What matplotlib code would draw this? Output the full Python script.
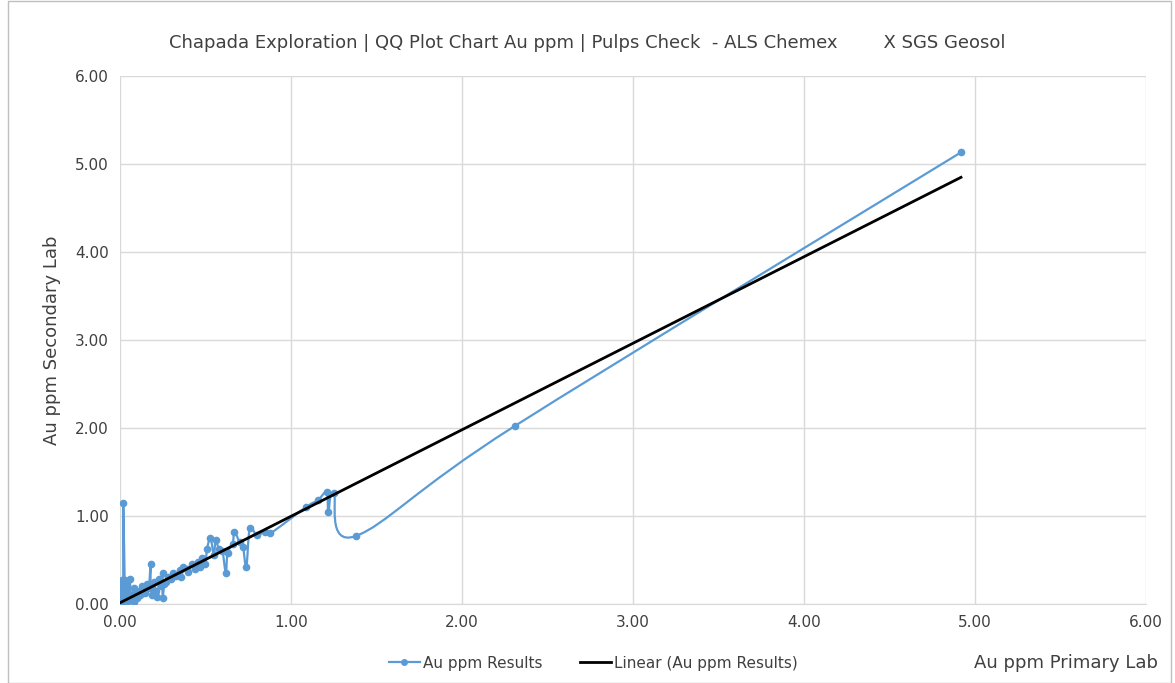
import numpy as np
import matplotlib
matplotlib.use("Agg")
import matplotlib.pyplot as plt
from matplotlib.path import Path
from matplotlib.patches import PathPatch, Rectangle
from matplotlib.lines import Line2D

plt.rcParams['font.family'] = ['Liberation Sans Narrow', 'DejaVu Sans']

# primary lab (ALS) vs secondary lab (SGS), in plotted order
primary = [0.00, 0.00, 0.01, 0.01, 0.02, 0.02, 0.02, 0.03, 0.03, 0.04, 0.04, 0.05, 0.05,
           0.06, 0.06, 0.07, 0.08, 0.08, 0.09, 0.10, 0.10, 0.11, 0.12, 0.13, 0.14, 0.15,
           0.16, 0.17, 0.18, 0.18, 0.19, 0.20, 0.21, 0.22, 0.23, 0.24, 0.25, 0.25, 0.26,
           0.27, 0.28, 0.30, 0.31, 0.33, 0.35, 0.36, 0.37, 0.39, 0.40, 0.42, 0.44, 0.46,
           0.47, 0.48, 0.50, 0.51, 0.53, 0.55, 0.56, 0.58, 0.60, 0.62, 0.63, 0.66, 0.67,
           0.70, 0.72, 0.74, 0.76, 0.80, 0.85, 0.88, 1.09, 1.16, 1.21, 1.22, 1.25, 1.38,
           2.31, 4.92]
secondary = [0.02, 0.10, 0.27, 0.05, 0.00, 0.15, 1.15, 0.02, 0.27, 0.08, 0.20, 0.03, 0.12,
             0.28, 0.05, 0.10, 0.02, 0.18, 0.08, 0.06, 0.12, 0.15, 0.10, 0.20, 0.15, 0.12,
             0.22, 0.18, 0.45, 0.20, 0.10, 0.25, 0.15, 0.08, 0.28, 0.20, 0.35, 0.07, 0.22,
             0.25, 0.30, 0.28, 0.35, 0.32, 0.38, 0.30, 0.42, 0.40, 0.36, 0.45, 0.40, 0.48,
             0.42, 0.52, 0.45, 0.62, 0.75, 0.55, 0.72, 0.62, 0.60, 0.35, 0.58, 0.68, 0.82,
             0.70, 0.65, 0.42, 0.86, 0.78, 0.82, 0.80, 1.10, 1.18, 1.27, 1.04, 1.26, 0.77,
             2.02, 5.13]

# Excel linear trendline as shown on the chart
trend_slope = 0.983
trend_intercept = 0.01

title = "Chapada Exploration | QQ Plot Chart Au ppm | Pulps Check  - ALS Chemex        X SGS Geosol"
ticks = [0, 1, 2, 3, 4, 5, 6]
blue = "#5b9bd5"

x = np.array(primary)
y = np.array(secondary)

fig = plt.figure(figsize=(11.75, 6.83), dpi=100)
ax = fig.add_axes([0.102, 0.116, 0.873, 0.773])

# smoothed line like Excel (bezier through the points)
verts = [(x[0], y[0])]
codes = [Path.MOVETO]
n = len(x)
for i in range(n - 1):
    p0 = np.array([x[max(i - 1, 0)], y[max(i - 1, 0)]])
    p1 = np.array([x[i], y[i]])
    p2 = np.array([x[i + 1], y[i + 1]])
    p3 = np.array([x[min(i + 2, n - 1)], y[min(i + 2, n - 1)]])
    c1 = p1 + (p2 - p0) / 6.0
    c2 = p2 - (p3 - p1) / 6.0
    verts += [tuple(c1), tuple(c2), tuple(p2)]
    codes += [Path.CURVE4] * 3
ax.add_patch(PathPatch(Path(verts, codes), facecolor='none', edgecolor=blue, lw=1.6, zorder=3))
ax.plot(x, y, 'o', color=blue, ms=4.5, zorder=4)

# linear trend
xt = np.array([0, x.max()])
ax.plot(xt, trend_slope * xt + trend_intercept, color='black', lw=2, zorder=5)

ax.set_xlim(0, 6)
ax.set_ylim(0, 6)
ax.set_xticks(ticks)
ax.set_yticks(ticks)
ax.xaxis.set_major_formatter(matplotlib.ticker.FormatStrFormatter('%.2f'))
ax.yaxis.set_major_formatter(matplotlib.ticker.FormatStrFormatter('%.2f'))
ax.grid(True, color='#d9d9d9', lw=1)
ax.set_axisbelow(True)
for s in ['top', 'right', 'left']:
    ax.spines[s].set_visible(False)
ax.spines['bottom'].set_color('#d9d9d9')
ax.tick_params(length=0, labelsize=11, colors='#595959', pad=8)
for lab in ax.get_xticklabels() + ax.get_yticklabels():
    lab.set_color('#404040')

fig.text(0.5, 0.937, title, ha='center', va='center', fontsize=13, color='#404040')
ax.set_ylabel("Au ppm Secondary Lab", fontsize=13, color='#404040', labelpad=10)
fig.text(0.907, 0.029, "Au ppm Primary Lab", ha='center', va='center', fontsize=13, color='#404040')

handles = [Line2D([], [], color=blue, marker='o', ms=4, lw=1.6),
           Line2D([], [], color='black', lw=2)]
fig.legend(handles, ["Au ppm Results", "Linear (Au ppm Results)"], loc='center',
           bbox_to_anchor=(0.505, 0.029), ncol=2, frameon=False, fontsize=11,
           handlelength=2, handletextpad=0.2, columnspacing=2.5, labelcolor='#404040')

fig.patches.append(Rectangle((0.007, 0.0), 0.99, 0.999, transform=fig.transFigure,
                             fill=False, edgecolor='#bfbfbf', lw=1))

fig.savefig("out.png", dpi=100)
